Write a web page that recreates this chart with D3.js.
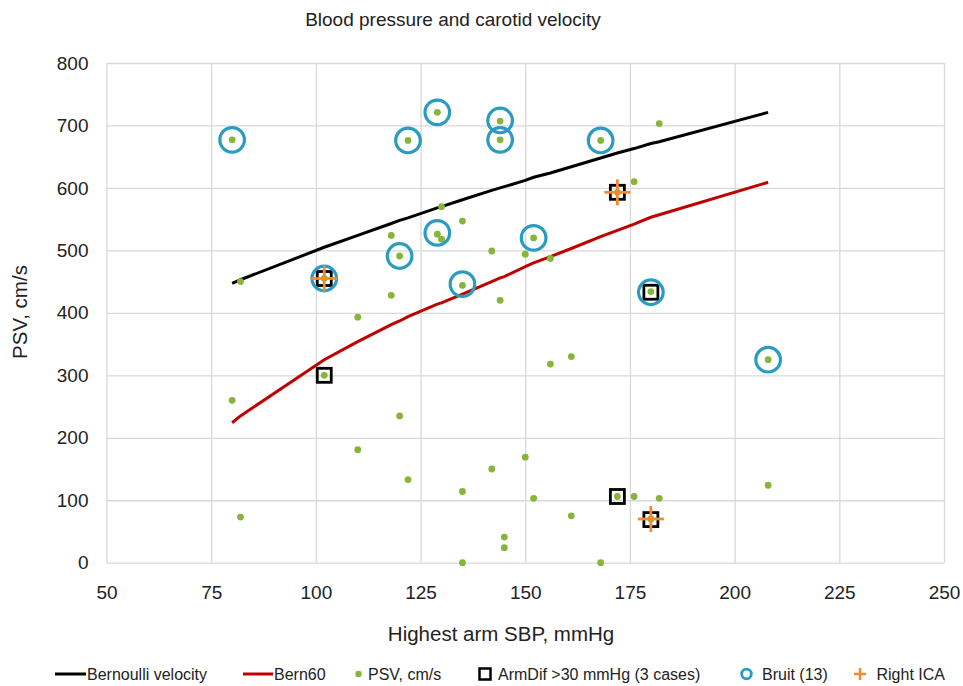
<!DOCTYPE html>
<html>
<head>
<meta charset="utf-8">
<script src="https://cdn.jsdelivr.net/npm/d3@7"></script>
<style>
  body { margin: 0; background: #fff; }
  svg { font-family: "Liberation Sans", Arial, Helvetica, sans-serif; }
  .grid line { stroke: #d9d9d9; stroke-width: 1.3; }
  .grid path { display: none; }
  .tick text { fill: #222; font-size: 19px; }
</style>
</head>
<body>
<svg width="963" height="686"></svg>
<script>
// PSV, cm/s against highest arm SBP
const psvX = [80, 82, 80, 82, 102, 102, 110, 118, 118, 120, 120, 110, 122, 122, 129, 130, 129, 130, 135, 135, 135, 135, 142, 142, 144, 144, 144, 145, 145, 150, 150, 152, 152, 156, 156, 161, 161, 168, 168, 176, 172, 182, 180, 172, 176, 182, 180, 208, 208];
const psvY = [677, 450, 260, 73, 300, 455, 393, 428, 524, 491, 235, 181, 133, 676, 721, 570, 526, 518, 547, 444, 114, 0, 499, 150, 707, 677, 420, 41, 24, 494, 169, 103, 520, 487, 318, 330, 75, 676, 0, 610, 593, 703, 434, 106, 106, 103, 70, 325, 124];

// ArmDif >30 mmHg
const armX = [102, 102, 180, 172, 172, 180];
const armY = [300, 455, 433, 593, 106, 69];

// Bruit (13)
const bruitX = [80, 102, 120, 122, 129, 129, 135, 144, 144, 152, 168, 180, 208];
const bruitY = [677, 455, 491, 676, 721, 528, 446, 708, 677, 520, 676, 433, 325];

// Right ICA
const icaX = [102, 172, 180];
const icaY = [455, 593, 70];

// curves
const curveX = [80, 82, 102, 110, 118, 120, 122, 129, 130, 135, 142, 144, 145, 150, 152, 156, 161, 168, 172, 176, 180, 182, 208];
const bernoulliY = [447, 453, 505, 524, 543, 548, 552, 568, 570, 581, 596, 600, 602, 612, 617, 624, 634, 648, 656, 663, 671, 674, 721];
const bern60Y = [224, 235, 325, 354, 381, 387, 394, 414, 416, 430, 450, 456, 458, 474, 480, 490, 503, 522, 532, 542, 553, 557, 609];

const xTicks = [50, 75, 100, 125, 150, 175, 200, 225, 250];
const yTicks = [0, 100, 200, 300, 400, 500, 600, 700, 800];

const svg = d3.select("svg");
const plotL = 106.5, plotR = 944, plotT = 63, plotB = 562.7;

const x = d3.scaleLinear().domain([50, 250]).range([plotL, plotR]);
const y = d3.scaleLinear().domain([0, 800]).range([plotB, plotT]);

// gridlines
svg.append("g").attr("class", "grid")
    .attr("transform", "translate(0," + plotB + ")")
    .call(d3.axisBottom(x).tickValues(xTicks).tickSize(-(plotB - plotT)).tickFormat(""));
svg.append("g").attr("class", "grid")
    .attr("transform", "translate(" + plotL + ",0)")
    .call(d3.axisLeft(y).tickValues(yTicks).tickSize(-(plotR - plotL)).tickFormat(""));

// tick labels
const xAxis = svg.append("g")
    .attr("transform", "translate(0," + plotB + ")")
    .call(d3.axisBottom(x).tickValues(xTicks).tickSize(0).tickPadding(23));
xAxis.select(".domain").remove();
const yAxis = svg.append("g")
    .attr("transform", "translate(" + plotL + ",0)")
    .call(d3.axisLeft(y).tickValues(yTicks).tickSize(0).tickPadding(18));
yAxis.select(".domain").remove();

// title and axis titles
svg.append("text").attr("x", 453).attr("y", 26)
    .attr("text-anchor", "middle").style("font-size", "19px").style("fill", "#222")
    .text("Blood pressure and carotid velocity");
svg.append("text").attr("x", 501).attr("y", 641)
    .attr("text-anchor", "middle").style("font-size", "20.5px").style("fill", "#222")
    .text("Highest arm SBP, mmHg");
svg.append("text")
    .attr("transform", "translate(27," + 312 + ") rotate(-90)")
    .attr("text-anchor", "middle").style("font-size", "20.5px").style("fill", "#222")
    .text("PSV, cm/s");

// lines
const line = d3.line().x(d => x(d[0])).y(d => y(d[1]));
svg.append("path")
    .datum(curveX.map((v, i) => [v, bernoulliY[i]]))
    .attr("d", line).attr("fill", "none")
    .attr("stroke", "#000").attr("stroke-width", 3);
svg.append("path")
    .datum(curveX.map((v, i) => [v, bern60Y[i]]))
    .attr("d", line).attr("fill", "none")
    .attr("stroke", "#c00000").attr("stroke-width", 3);

// PSV dots
svg.append("g").selectAll("circle")
    .data(psvX.map((v, i) => [v, psvY[i]]))
    .join("circle")
    .attr("cx", d => x(d[0])).attr("cy", d => y(d[1]))
    .attr("r", 3.4).attr("fill", "#86b53a");

// ArmDif squares
svg.append("g").selectAll("rect")
    .data(armX.map((v, i) => [v, armY[i]]))
    .join("rect")
    .attr("x", d => x(d[0]) - 7).attr("y", d => y(d[1]) - 7)
    .attr("width", 14).attr("height", 14)
    .attr("fill", "none").attr("stroke", "#000").attr("stroke-width", 2.8);

// Bruit rings
svg.append("g").selectAll("circle")
    .data(bruitX.map((v, i) => [v, bruitY[i]]))
    .join("circle")
    .attr("cx", d => x(d[0])).attr("cy", d => y(d[1]))
    .attr("r", 12.3).attr("fill", "none")
    .attr("stroke", "#2a9bc1").attr("stroke-width", 3.2);

// Right ICA crosses
const cross = svg.append("g").selectAll("g")
    .data(icaX.map((v, i) => [v, icaY[i]]))
    .join("g")
    .attr("transform", d => "translate(" + x(d[0]) + "," + y(d[1]) + ")");
cross.append("line").attr("x1", -13).attr("x2", 13)
    .attr("stroke", "#f28a30").attr("stroke-width", 2.8);
cross.append("line").attr("y1", -13).attr("y2", 13)
    .attr("stroke", "#f28a30").attr("stroke-width", 2.8);

// legend
const ly = 674;
const lg = svg.append("g").style("font-size", "16px").style("fill", "#222");
lg.append("line").attr("x1", 55).attr("x2", 86).attr("y1", ly).attr("y2", ly)
    .attr("stroke", "#000").attr("stroke-width", 3);
lg.append("text").attr("x", 87).attr("y", ly + 5.5).text("Bernoulli velocity");
lg.append("line").attr("x1", 243).attr("x2", 273).attr("y1", ly).attr("y2", ly)
    .attr("stroke", "#c00000").attr("stroke-width", 3);
lg.append("text").attr("x", 274).attr("y", ly + 5.5).text("Bern60");
lg.append("circle").attr("cx", 358.5).attr("cy", ly).attr("r", 3.2).attr("fill", "#86b53a");
lg.append("text").attr("x", 368).attr("y", ly + 5.5).text("PSV, cm/s");
lg.append("rect").attr("x", 479.5).attr("y", ly - 5.5).attr("width", 11).attr("height", 11)
    .attr("fill", "none").attr("stroke", "#000").attr("stroke-width", 2.5);
lg.append("text").attr("x", 498).attr("y", ly + 5.5).text("ArmDif >30 mmHg (3 cases)");
lg.append("circle").attr("cx", 746.5).attr("cy", ly).attr("r", 4.8)
    .attr("fill", "none").attr("stroke", "#2a9bc1").attr("stroke-width", 2.8);
lg.append("text").attr("x", 762).attr("y", ly + 5.5).text("Bruit (13)");
lg.append("line").attr("x1", 854).attr("x2", 866).attr("y1", ly).attr("y2", ly)
    .attr("stroke", "#f28a30").attr("stroke-width", 2.5);
lg.append("line").attr("x1", 860).attr("x2", 860).attr("y1", ly - 6).attr("y2", ly + 6)
    .attr("stroke", "#f28a30").attr("stroke-width", 2.5);
lg.append("text").attr("x", 876.5).attr("y", ly + 5.5).text("Right ICA");
</script>
</body>
</html>
